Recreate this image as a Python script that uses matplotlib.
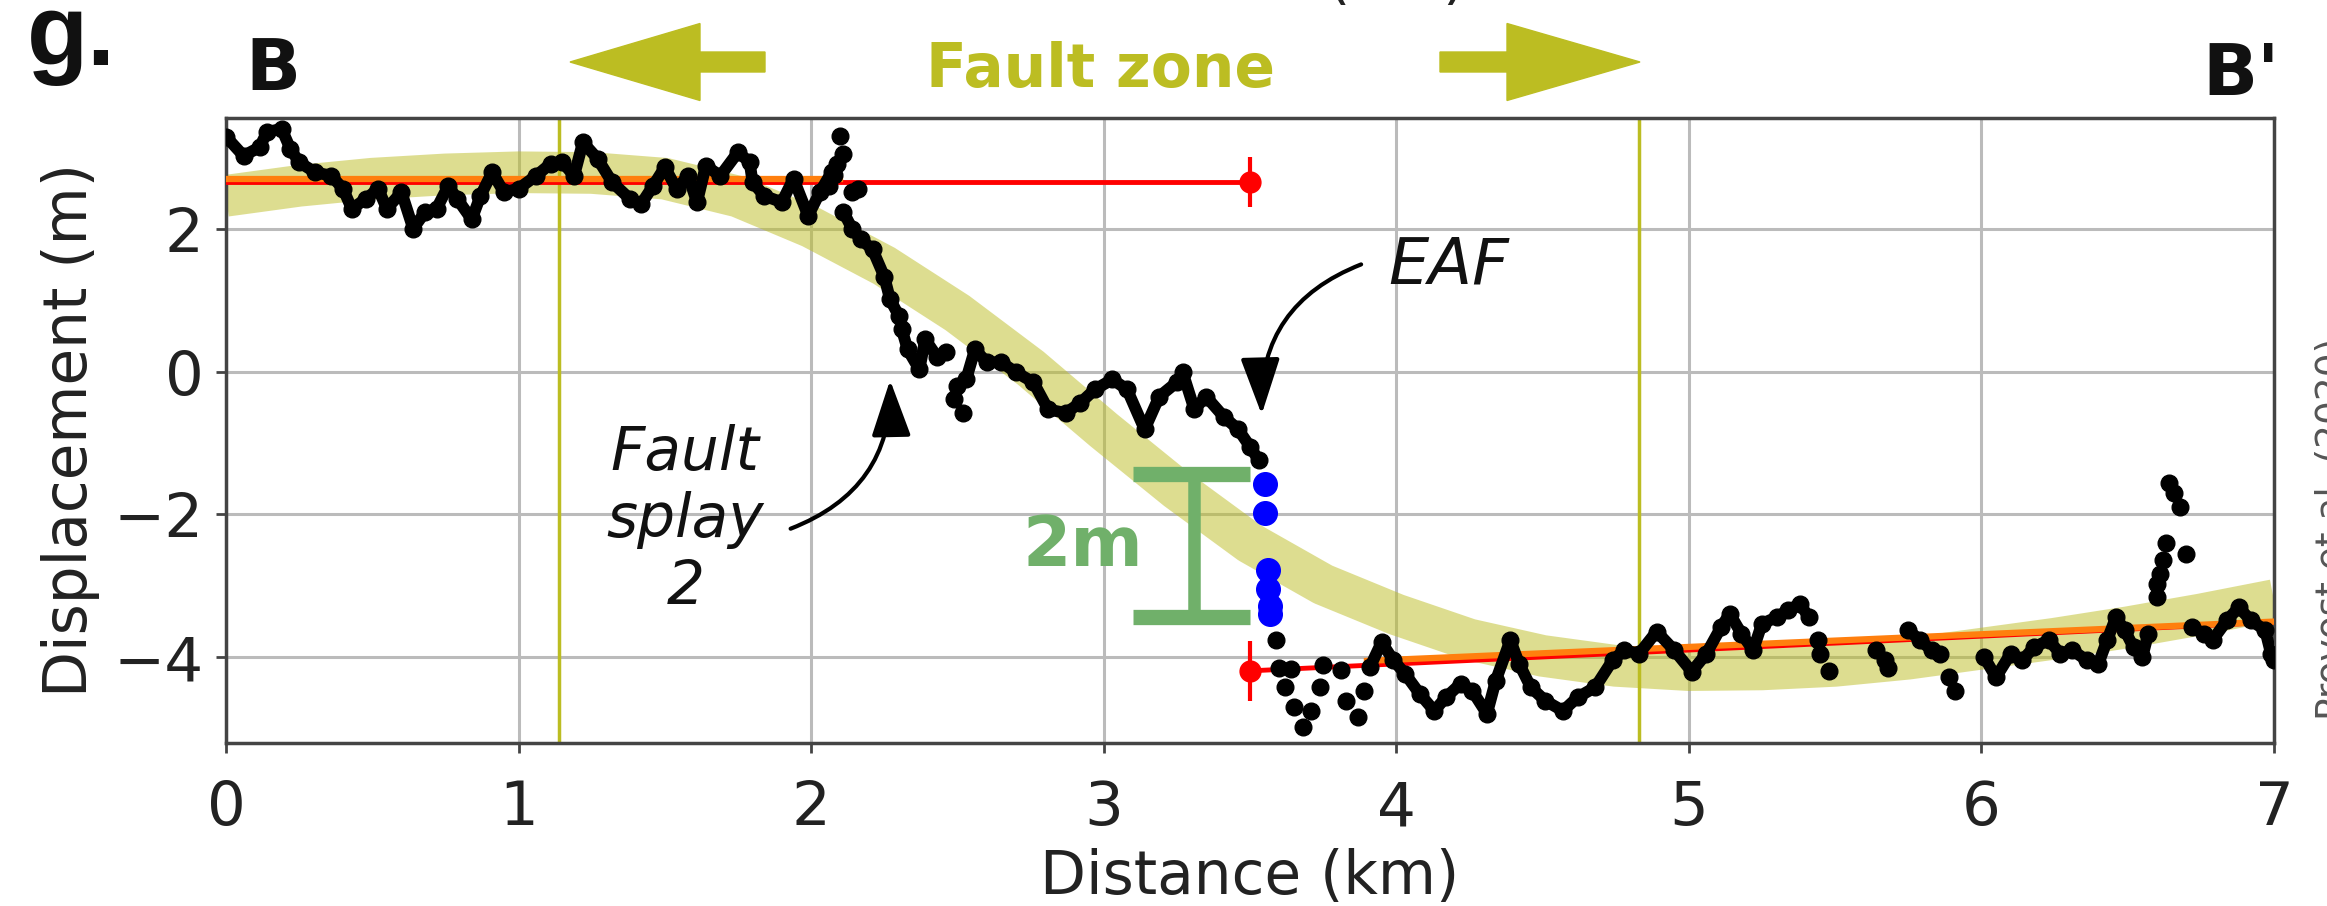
import numpy as np
import matplotlib
matplotlib.use('Agg')
import matplotlib.pyplot as plt
from matplotlib.patches import FancyArrow

nan = np.nan

# black displacement profile, continuous stretches (nan = break)
profile_x = [0.0, 0.06, 0.115, 0.14, 0.19, 0.22, 0.25, 0.305, 0.36, 0.40, 0.43, 0.48, 0.52, 0.55, 0.60,
             0.64, 0.68, 0.72, 0.76, 0.79, 0.84, 0.87, 0.91, 0.95, 1.00, 1.06, 1.11, 1.15, 1.19, 1.22,
             1.27, 1.32, 1.38, 1.42, 1.46, 1.50, 1.54, 1.58, 1.61, 1.64, 1.69, 1.75, 1.79, 1.80, 1.84,
             1.90, 1.94, 1.99, 2.03, 2.07, nan,
             2.11, 2.14, 2.17, 2.21, 2.25, 2.27, 2.30, nan,
             2.31, 2.33, 2.37, 2.39, 2.43, 2.46, nan,
             2.53, 2.56, 2.60, 2.65, 2.70, 2.76, 2.81, 2.87, 2.92, 2.97, 3.03, 3.08, 3.14, 3.19, 3.25,
             3.27, 3.31, 3.35, 3.41, 3.46, 3.50, 3.53, nan,
             3.91, 3.95, 3.99, 4.03, 4.08, 4.13, 4.17, 4.22, 4.26, 4.31, 4.34, 4.39, 4.42, 4.46, 4.51,
             4.57, 4.62, 4.68, 4.74, 4.78, 4.83, 4.89, 4.95, 5.01, 5.06, 5.11, 5.14, 5.18, 5.22, 5.25,
             5.30, 5.34, 5.38, 5.41, nan,
             5.75, 5.79, 5.83, 5.86, nan,
             6.01, 6.05, 6.10, 6.14, 6.18, 6.23, 6.27, 6.31, 6.36, 6.40, 6.43, 6.46, 6.49, 6.52, 6.55,
             6.57, nan,
             6.72, 6.76, 6.79, 6.84, 6.88, 6.92, 6.97, 6.99, 7.00]
profile_y = [3.29, 3.02, 3.14, 3.35, 3.40, 3.12, 2.93, 2.79, 2.74, 2.56, 2.28, 2.42, 2.56, 2.28, 2.51,
             2.00, 2.23, 2.28, 2.60, 2.42, 2.13, 2.46, 2.79, 2.51, 2.56, 2.74, 2.91, 2.93, 2.74, 3.21,
             2.98, 2.65, 2.42, 2.35, 2.60, 2.86, 2.56, 2.74, 2.37, 2.88, 2.74, 3.07, 2.93, 2.65, 2.46,
             2.37, 2.70, 2.18, 2.51, 2.79, nan,
             2.24, 2.00, 1.85, 1.71, 1.33, 1.01, 0.78, nan,
             0.59, 0.31, 0.03, 0.45, 0.21, 0.27, nan,
             -0.11, 0.31, 0.13, 0.13, -0.01, -0.15, -0.53, -0.58, -0.44, -0.25, -0.11, -0.25, -0.81, -0.35, -0.15,
             -0.01, -0.53, -0.35, -0.63, -0.81, -1.05, -1.24, nan,
             -4.14, -3.79, -4.04, -4.23, -4.51, -4.75, -4.56, -4.37, -4.47, -4.79, -4.33, -3.76, -4.09, -4.42, -4.61,
             -4.75, -4.56, -4.42, -4.04, -3.90, -3.95, -3.64, -3.90, -4.20, -3.95, -3.58, -3.39, -3.67, -3.90, -3.53,
             -3.44, -3.34, -3.25, -3.44, nan,
             -3.62, -3.76, -3.90, -3.95, nan,
             -4.00, -4.28, -3.95, -4.04, -3.86, -3.76, -3.95, -3.90, -4.04, -4.09, -3.76, -3.44, -3.62, -3.86, -4.00,
             -3.67, nan,
             -3.58, -3.67, -3.76, -3.48, -3.30, -3.48, -3.62, -3.95, -4.04]

# loose dots (outliers / sparse parts)
dots_x = [2.06, 2.08, 2.09, 2.10, 2.11, 2.14, 2.16, 2.49, 2.50, 2.52,
          3.59, 3.60, 3.62, 3.64, 3.65, 3.68, 3.71, 3.74, 3.75, 3.81, 3.83, 3.87, 3.89,
          5.44, 5.45, 5.48, 5.64, 5.67, 5.68, 5.89, 5.91,
          6.60, 6.60, 6.61, 6.62, 6.63, 6.70, 6.64, 6.66, 6.68]
dots_y = [2.60, 2.75, 2.90, 3.30, 3.05, 2.51, 2.56, -0.39, -0.20, -0.58,
          -3.76, -4.15, -4.42, -4.16, -4.70, -4.98, -4.75, -4.42, -4.11, -4.18, -4.61, -4.84, -4.47,
          -3.76, -3.95, -4.19, -3.90, -4.04, -4.15, -4.28, -4.47,
          -3.16, -2.97, -2.83, -2.64, -2.40, -2.55, -1.56, -1.70, -1.89]

# points on the EAF trace
eaf_x = [3.55, 3.55, 3.56, 3.56, 3.57, 3.57]
eaf_y = [-1.58, -1.98, -2.78, -3.05, -3.28, -3.40]

# arctan model band
band_x = [0, 0.25, 0.5, 0.75, 1.0, 1.25, 1.5, 1.75, 2.0, 2.25, 2.5, 2.75, 3.0, 3.25, 3.5,
          3.75, 4.0, 4.25, 4.5, 4.75, 5.0, 5.25, 5.5, 5.75, 6.0, 6.25, 6.5, 6.75, 7.0]
band_y = [2.46, 2.60, 2.70, 2.76, 2.79, 2.78, 2.70, 2.45, 2.02, 1.48, 0.82, 0.05, -0.82, -1.65, -2.40,
          -2.98, -3.40, -3.75, -3.98, -4.12, -4.18, -4.17, -4.12, -4.02, -3.88, -3.74, -3.58, -3.40, -3.20]

# linear fits either side of the fault
fit_top_x = [0, 3.5]
fit_top_y = [2.65, 2.65]
fit_bot_x = [3.5, 7.0]
fit_bot_y = [-4.19, -3.51]
far_top_x = [0, 2.1]
far_top_y = [2.69, 2.69]
far_bot_x = [3.9, 7.0]
far_bot_y = [-4.05, -3.50]
offset_x = [3.5, 3.5]
offset_y = [2.65, -4.19]
offset_err = [0.35, 0.42]

fault_zone = [1.14, 4.83]

plt.rcParams['font.family'] = 'DejaVu Sans'
olive = '#bcbd22'
green = '#70b06a'

fig = plt.figure(figsize=(23.27, 9.06), dpi=100)
ax = fig.add_axes([0.0971, 0.1799, 0.8801, 0.6899])

ax.plot(band_x, band_y, color=olive, alpha=0.5, lw=30, solid_capstyle='butt', zorder=1)
for xv in fault_zone:
    ax.axvline(xv, color=olive, lw=2.5, zorder=2)

ax.plot(fit_top_x, fit_top_y, color='red', lw=3.5, zorder=3)
ax.plot(fit_bot_x, fit_bot_y, color='red', lw=3.5, zorder=3)
ax.plot(far_top_x, far_top_y, color='#ff7f0e', lw=4.5, zorder=3.5)
ax.plot(far_bot_x, far_bot_y, color='#ff7f0e', lw=4.5, zorder=3.5)
ax.errorbar(offset_x, offset_y, yerr=offset_err, fmt='o', color='red', ms=15,
            elinewidth=3, capsize=0, zorder=4)

ax.plot(profile_x, profile_y, color='black', lw=8.5, marker='o', ms=12,
        solid_joinstyle='round', solid_capstyle='round', zorder=5)
ax.plot(dots_x, dots_y, 'o', color='black', ms=12, zorder=5)
ax.plot(eaf_x, eaf_y, 'o', color='#0000ff', ms=17, zorder=6)

# 2 m scale bar
sx, sy0, slen = 3.31, -3.44, 2.0
ax.plot([sx, sx], [sy0, sy0 + slen], color=green, lw=9, solid_capstyle='butt', zorder=4)
ax.plot([sx - 0.21, sx + 0.19], [sy0, sy0], color=green, lw=11, solid_capstyle='butt', zorder=4)
ax.plot([sx - 0.21, sx + 0.19], [sy0 + slen, sy0 + slen], color=green, lw=11,
        solid_capstyle='butt', zorder=4)
ax.text(2.93, -2.45, '2m', color=green, fontsize=50, fontweight='bold', ha='center', va='center')

# annotations
ax.text(1.57, -2.08, 'Fault\nsplay\n2', style='italic', fontsize=43, ha='center', va='center',
        linespacing=1.2, color='#111111')
ax.annotate('', xy=(2.27, -0.12), xytext=(1.93, -2.2),
            arrowprops=dict(arrowstyle='-|>,head_length=1.0,head_width=0.35', color='black', lw=3,
                            connectionstyle='arc3,rad=0.35', shrinkA=0, shrinkB=0, mutation_scale=35))
ax.text(4.18, 1.48, 'EAF', style='italic', fontsize=46, ha='center', va='center', color='#111111')
ax.annotate('', xy=(3.54, -0.6), xytext=(3.88, 1.5),
            arrowprops=dict(arrowstyle='-|>,head_length=1.0,head_width=0.35', color='black', lw=3,
                            connectionstyle='arc3,rad=0.35', shrinkA=0, shrinkB=0, mutation_scale=35))

ax.set_xlim(0, 7)
ax.set_ylim(-5.2, 3.55)
ax.set_xticks(range(8))
ax.set_yticks([-4, -2, 0, 2])
ax.grid(True, color='#bbbbbb', lw=2.2, zorder=0)
ax.set_axisbelow(True)
for sp in ax.spines.values():
    sp.set_color('#444444')
    sp.set_linewidth(2.5)
ax.tick_params(labelsize=44, length=7, width=2, color='#444444', labelcolor='#222222')
ax.tick_params(axis='x', pad=19)
ax.tick_params(axis='y', pad=9)
ax.set_xlabel('Distance (km)', fontsize=43, color='#222222', labelpad=7)
ax.set_ylabel('Displacement (m)', fontsize=43, color='#222222', labelpad=10)

# header
fig.text(27 / 2327, 0.928, 'g.', fontsize=72, fontweight='bold', family='Liberation Sans',
         ha='left', va='baseline', color='#111111')
fig.text(245 / 2327, 0.9007, 'B', fontsize=52, fontweight='bold', ha='left', va='baseline',
         color='#111111')
fig.text(2280 / 2327, 0.8951, "B'", fontsize=52, fontweight='bold', ha='right', va='baseline',
         color='#111111')
fig.text(926 / 2327, 0.904, 'Fault zone', fontsize=43, fontweight='bold', color=olive,
         ha='left', va='baseline')
fig.add_artist(FancyArrow(7.65, 8.44, -1.95, 0, width=0.2, head_width=0.77, head_length=1.3,
                          length_includes_head=True, color=olive, transform=fig.dpi_scale_trans))
fig.add_artist(FancyArrow(14.40, 8.44, 2.00, 0, width=0.2, head_width=0.77, head_length=1.33,
                          length_includes_head=True, color=olive, transform=fig.dpi_scale_trans))

# cut-off texts at the edges of the panel
fig.text(0.540, 1.003, 'Distance (km)', fontsize=43, ha='center', va='baseline', color='#222222')
fig.text(0.9948, 0.416, 'Provost et al. (2020)', fontsize=27, rotation=90, ha='left', va='center',
         color='#555555')

fig.savefig('out.png', dpi=100)
